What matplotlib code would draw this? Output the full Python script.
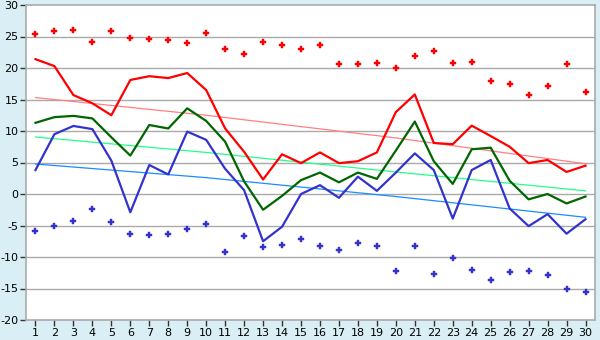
import matplotlib
matplotlib.use("Agg")
import matplotlib.pyplot as plt

plt.rcParams["axes.unicode_minus"] = False

days = list(range(1, 31))

t_max = [21.4, 20.3, 15.7, 14.4, 12.5, 18.1, 18.7, 18.4, 19.2, 16.5,
         10.4, 6.7, 2.3, 6.3, 4.9, 6.6, 4.9, 5.2, 6.6, 13.0,
         15.8, 8.1, 7.9, 10.85, 9.2, 7.5, 4.9, 5.4, 3.5, 4.5]
t_mean = [11.3, 12.2, 12.4, 12.0, 9.0, 6.1, 10.95, 10.4, 13.6, 11.6,
          8.3, 2.0, -2.5, -0.3, 2.2, 3.4, 1.85, 3.4, 2.4, 6.9,
          11.5, 5.2, 1.6, 7.1, 7.35, 2.1, -0.85, 0.0, -1.5, -0.4]
t_min = [3.8, 9.5, 10.8, 10.3, 5.3, -2.9, 4.6, 3.1, 9.9, 8.6,
         4.0, 0.6, -7.5, -5.2, 0.0, 1.4, -0.6, 2.75, 0.5, 3.4,
         6.45, 3.8, -3.9, 3.8, 5.4, -2.3, -5.1, -3.2, -6.3, -4.0]
rec_max = [25.35, 25.8, 25.98, 24.07, 25.8, 24.7, 24.55, 24.4, 23.9, 25.5,
           22.97, 22.3, 24.07, 23.6, 22.97, 23.6, 20.6, 20.6, 20.75, 19.95,
           21.85, 22.65, 20.75, 20.9, 17.9, 17.4, 15.67, 17.1, 20.6, 16.14]
rec_min = [-5.9, -5.1, -4.3, -2.4, -4.5, -6.4, -6.55, -6.4, -5.6, -4.8,
           -9.25, -6.7, -8.46, -8.15, -7.2, -8.3, -8.9, -7.8, -8.3, -12.27,
           -8.3, -12.75, -10.2, -12.1, -13.7, -12.4, -12.27, -12.9, -15.1, -15.6]

trend_days = [1, 10, 20, 30]
trend_max = [15.3, 12.5, 8.9, 4.8]
trend_mean = [9.05, 6.6, 3.5, 0.5]
trend_min = [4.76, 2.6, -0.4, -3.7]

y_ticks = list(range(-20, 31, 5))

fig = plt.figure(figsize=(6, 3.4), dpi=100)
fig.patch.set_facecolor("#d9eef5")
ax = fig.add_axes([26/600, 1 - 320/340, (595 - 26)/600, (320 - 5)/340])
ax.set_facecolor("white")

for y in y_ticks[1:-1]:
    ax.axhline(y, color="#aaaaaa", lw=1.0, zorder=1)

ax.plot(trend_days, trend_max, color="#ff8080", lw=0.9, zorder=2)
ax.plot(trend_days, trend_mean, color="#22ff88", lw=0.9, zorder=2)
ax.plot(trend_days, trend_min, color="#1a8cff", lw=0.9, zorder=2)

ax.plot(days, t_max, color="#ff0000", lw=1.6, zorder=3)
ax.plot(days, t_mean, color="#006600", lw=1.6, zorder=3)
ax.plot(days, t_min, color="#3333cc", lw=1.6, zorder=3)

ax.plot(days, rec_max, ls="none", marker="P", ms=4.2, color="#ff0000",
        mec="#ff0000", mew=0.3, zorder=4)
ax.plot(days, rec_min, ls="none", marker="P", ms=4.2, color="#3333cc",
        mec="#3333cc", mew=0.3, zorder=4)

ax.set_xlim(0.5, 30.5)
ax.set_ylim(-20, 30)
ax.set_xticks(days)
ax.set_yticks(y_ticks)
ax.tick_params(axis="both", labelsize=8, color="#333333", length=4,
               width=1, direction="out", pad=1.5)
for s in ax.spines.values():
    s.set_color("#aaaaaa")
    s.set_linewidth(1.2)

fig.savefig("out.png", dpi=100, facecolor=fig.get_facecolor())
